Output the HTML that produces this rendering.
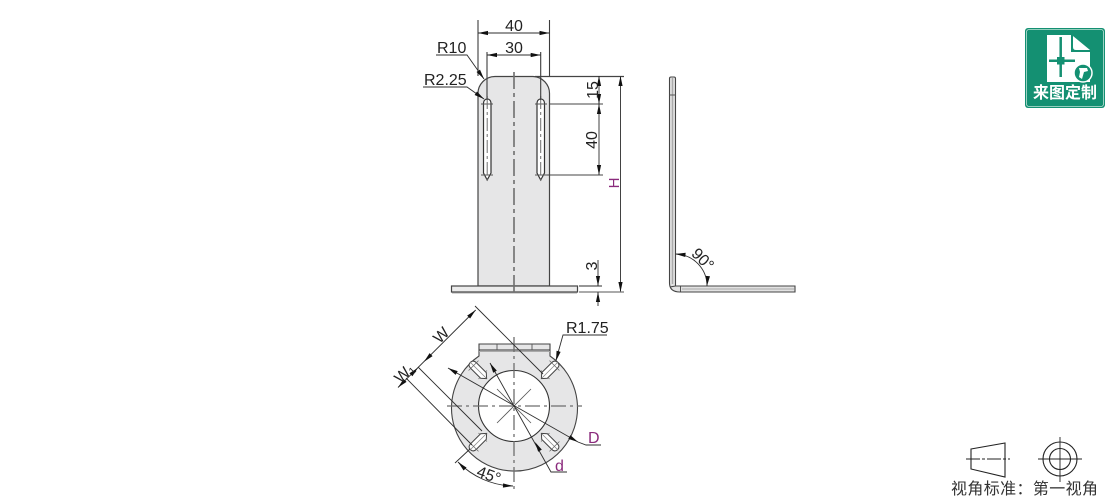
<!DOCTYPE html>
<html><head><meta charset="utf-8"><style>
html,body{margin:0;padding:0;background:#fff;width:1110px;height:500px;overflow:hidden}
svg{display:block}
text{font-family:"Liberation Sans","Noto Sans CJK SC",sans-serif;fill:#222}
.l{stroke:#3c3c3c;stroke-width:1.100;fill:none}
.t{stroke:#2e2e2e;stroke-width:.9;fill:none}
.c{stroke:#6e6e6e;stroke-width:1;fill:none;stroke-dasharray:13 3 3 3}
.a{fill:#111;stroke:none}
</style></head><body>
<svg width="1110" height="500" viewBox="0 0 1110 500" xmlns="http://www.w3.org/2000/svg">
<defs>
<path id="ar" d="M0 0L-10 -2.100L-10 2.100Z" class="a"/>
<g id="slotB">
<path d="M-11.500 0L-7 -4H7Q11.500 -4 11.500 0Q11.500 4 7 4H-7Z" fill="#fff" stroke="#444" stroke-width="1"/>
<path d="M-11 0H12" stroke="#888" stroke-width=".8"/>
<path d="M7 -7V7M-6 -6V-4M-6 4V6" stroke="#666" stroke-width=".7"/>
</g>
</defs>

<!-- front view plate -->
<path d="M478 286V94A17 17 0 0 1 495 76.500H533A17 17 0 0 1 549.500 94V286Z" fill="#e6e6e7" stroke="#444" stroke-width="1.200"/>
<rect x="451.500" y="286" width="126" height="6" fill="#ececec" stroke="#444" stroke-width="1.200"/>
<path d="M452 293H577" stroke="#aaa" stroke-width="1"/>
<!-- slots -->
<g fill="#fff" stroke="#333" stroke-width="1.200">
<path d="M483.500 103a3.700 4 0 0 1 7.500 0V173L487.200 180L483.500 173Z"/>
<path d="M537 103a3.700 4 0 0 1 7.500 0V173L540.700 180L537 173Z"/>
</g>
<path d="M481 104H493M481 175H493M535 104H547M535 175H547" stroke="#555" stroke-width="1"/>
<path d="M487.200 96V183M540.700 96V183" class="c" stroke-dasharray="13 3 3 3"/>
<path d="M514 72V296" class="c" style="stroke-width:1.600;stroke-dasharray:17 4 4 4"/>

<!-- dims 40/30 -->
<path d="M478 20V76M549.500 20V76M487 52V100M540.700 52V100" class="l"/>
<path d="M478 33H549.500M487 55H540.700" class="t"/>
<use href="#ar" transform="translate(478,33) rotate(180)"/><use href="#ar" transform="translate(549.500,33)"/>
<use href="#ar" transform="translate(487,55) rotate(180)"/><use href="#ar" transform="translate(540.700,55)"/>
<text x="514" y="31" font-size="16" text-anchor="middle">40</text>
<text x="514" y="53" font-size="16" text-anchor="middle">30</text>
<!-- R10 R2.25 -->
<path d="M436 55H467L484 79M423 87H467L484 99" class="t"/>
<use href="#ar" transform="translate(484,79) rotate(55)"/><use href="#ar" transform="translate(484,99) rotate(35)"/>
<text x="437" y="53" font-size="16">R10</text>
<text x="424" y="85" font-size="16">R2.25</text>
<!-- right dims -->
<path d="M535 76.500H624" stroke="#444" stroke-width="1.200"/>
<path d="M549 104H603M547 175H603" stroke="#444" stroke-width="1.100"/>
<path d="M599 76V175M620.500 77V292" class="t"/>
<use href="#ar" transform="translate(599,76) rotate(-90)"/><use href="#ar" transform="translate(599,104) rotate(90)"/>
<use href="#ar" transform="translate(599,104) rotate(-90)"/><use href="#ar" transform="translate(599,175) rotate(90)"/>
<use href="#ar" transform="translate(620.500,76) rotate(-90)"/><use href="#ar" transform="translate(620.500,292) rotate(90)"/>
<text transform="translate(598,90) rotate(-90)" font-size="16" text-anchor="middle">15</text>
<text transform="translate(597,140) rotate(-90)" font-size="16" text-anchor="middle">40</text>
<text transform="translate(619,183) rotate(-90)" font-size="15" text-anchor="middle" style="fill:#8a2a7c">H</text>
<!-- 3 dim -->
<path d="M579 286H602" class="t"/><path d="M579 292H624" stroke="#777" stroke-width="1.200"/>
<path d="M598 260V286M598 292V306" class="t"/>
<use href="#ar" transform="translate(598,286) rotate(90)"/><use href="#ar" transform="translate(598,292) rotate(-90)"/>
<text transform="translate(597,266) rotate(-90)" font-size="16" text-anchor="middle">3</text>

<!-- side view -->
<path d="M669.500 283V78.500Q669.500 77 671 77H674Q675.500 77 675.500 78.500V286H795V292H680Q669.500 292 669.500 283Z" fill="#e2e2e2" stroke="#444" stroke-width="1.100"/>
<path d="M672.500 78V284" stroke="#aaa" stroke-width="1.500"/>
<path d="M669.500 95H675.500" stroke="#555"/>
<path d="M680.500 286V292M675.500 286L670 287" stroke="#444" stroke-width=".9"/>
<path d="M682 289H794" stroke="#bbb" stroke-width="1.500"/>
<path d="M675.500 254A32 32 0 0 1 707 286" class="t"/>
<use href="#ar" transform="translate(675.500,254) rotate(185)"/><use href="#ar" transform="translate(707,286) rotate(95)"/>
<text transform="translate(699,263) rotate(45)" font-size="16" text-anchor="middle">90°</text>

<!-- bottom view -->
<path d="M479 356V344H550V356A63 63 0 1 1 479 356Z" fill="#e6e6e7" stroke="#444" stroke-width="1.100"/>
<path d="M479 350H550" stroke="#333"/>
<path d="M497 344V350M532 344V350" stroke="#555" stroke-width=".9"/>
<path d="M479 351.500H550" stroke="#aaa" stroke-width="1"/>
<circle cx="514" cy="406" r="35.500" fill="#fff" stroke="#333" stroke-width="1.100"/>
<use href="#slotB" transform="translate(549.500,370.500) rotate(-45)"/>
<use href="#slotB" transform="translate(478.500,370.500) rotate(-135)"/>
<use href="#slotB" transform="translate(478.500,441.500) rotate(135)"/>
<use href="#slotB" transform="translate(549.500,441.500) rotate(45)"/>
<path d="M447 406H582M514 337V490" class="c" style="stroke-width:1.300;stroke-dasharray:15 4 3 4"/>
<path d="M497 389L531 423M531 389L497 423" stroke="#555" stroke-width=".8"/>
<!-- W dims -->
<path d="M475 306L543 374M418 367L482 431M406 378L472 445" class="t"/>
<path d="M475.700 310L398 387.500" class="t"/>
<use href="#ar" transform="translate(475.700,310) rotate(-45)"/>
<use href="#ar" transform="translate(424,361.700) rotate(135)"/>
<use href="#ar" transform="translate(418,367.700) rotate(-45)"/>
<use href="#ar" transform="translate(398,387.500) rotate(135)"/>
<text transform="translate(445,339) rotate(-45)" font-size="16" text-anchor="middle">W</text>
<text transform="translate(408,377) rotate(-45)" font-size="16" text-anchor="middle">W<tspan font-size="10" dy="2">1</tspan></text>
<!-- R1.75 -->
<path d="M607 335H563L556 360" class="t"/>
<use href="#ar" transform="translate(556,361) rotate(105)"/>
<text x="566" y="333" font-size="16">R1.75</text>
<!-- D, d -->
<path d="M448 368L578 442L586 445H601" class="t"/>
<use href="#ar" transform="translate(448,368) rotate(-150)"/><use href="#ar" transform="translate(578,442) rotate(30)"/>
<text x="588" y="443" font-size="16" style="fill:#8a2a7c">D</text>
<path d="M490 363L551 472H567" class="t"/>
<use href="#ar" transform="translate(490,363) rotate(-120)"/><use href="#ar" transform="translate(535,442) rotate(-120)"/>
<text x="555" y="471" font-size="16" style="fill:#8a2a7c">d</text>
<!-- 45 -->
<path d="M455 463L470 449" class="t"/>
<path d="M458 462A80 80 0 0 0 513 486" class="t"/>
<use href="#ar" transform="translate(458,462) rotate(-135)"/><use href="#ar" transform="translate(513,486) rotate(3)"/>
<text transform="translate(487,480) rotate(20)" font-size="16" text-anchor="middle">45°</text>

<!-- logo -->
<rect x="1025" y="28" width="80" height="80" rx="3" fill="#149072"/>
<rect x="1026.500" y="29.500" width="77" height="77" rx="2.500" fill="none" stroke="#bfe3d8" stroke-width=".8"/>
<path d="M1047 35H1071V52H1090V82H1047Z" fill="#fff"/>
<path d="M1073 36L1090 50H1076Q1073 50 1073 47Z" fill="#fff"/>
<path d="M1060.700 37V77M1049 60.700H1075" stroke="#149072" stroke-width="2.500"/>
<rect x="1057" y="57" width="7.500" height="7.500" fill="#149072"/>
<circle cx="1083" cy="73" r="9" fill="#149072" stroke="#fff" stroke-width="1.500"/>
<path d="M1079 68H1087L1088 71L1084 72L1082 79L1079 77L1080 72Z" fill="#fff"/>
<text x="1065" y="98" font-size="16" font-weight="bold" text-anchor="middle" style="fill:#fff;font-family:'Noto Sans CJK SC',sans-serif">来图定制</text>

<!-- projection symbol -->
<path d="M971 449L1005 443V477L971 469Z" fill="none" stroke="#222" stroke-width="1.100"/>
<path d="M966 459H1010" stroke="#222" stroke-width=".9" stroke-dasharray="14 2 3 2"/>
<circle cx="1060" cy="459" r="17" fill="none" stroke="#222" stroke-width="1.100"/>
<circle cx="1060" cy="459" r="10.500" fill="none" stroke="#222" stroke-width="1.100"/>
<path d="M1038 459H1082M1060 437V482" stroke="#222" stroke-width=".9"/>
<text x="951" y="494" font-size="16" style="fill:#333;font-family:'Noto Sans CJK SC',sans-serif" textLength="147" lengthAdjust="spacing">视角标准：第一视角</text>
</svg>
</body></html>
